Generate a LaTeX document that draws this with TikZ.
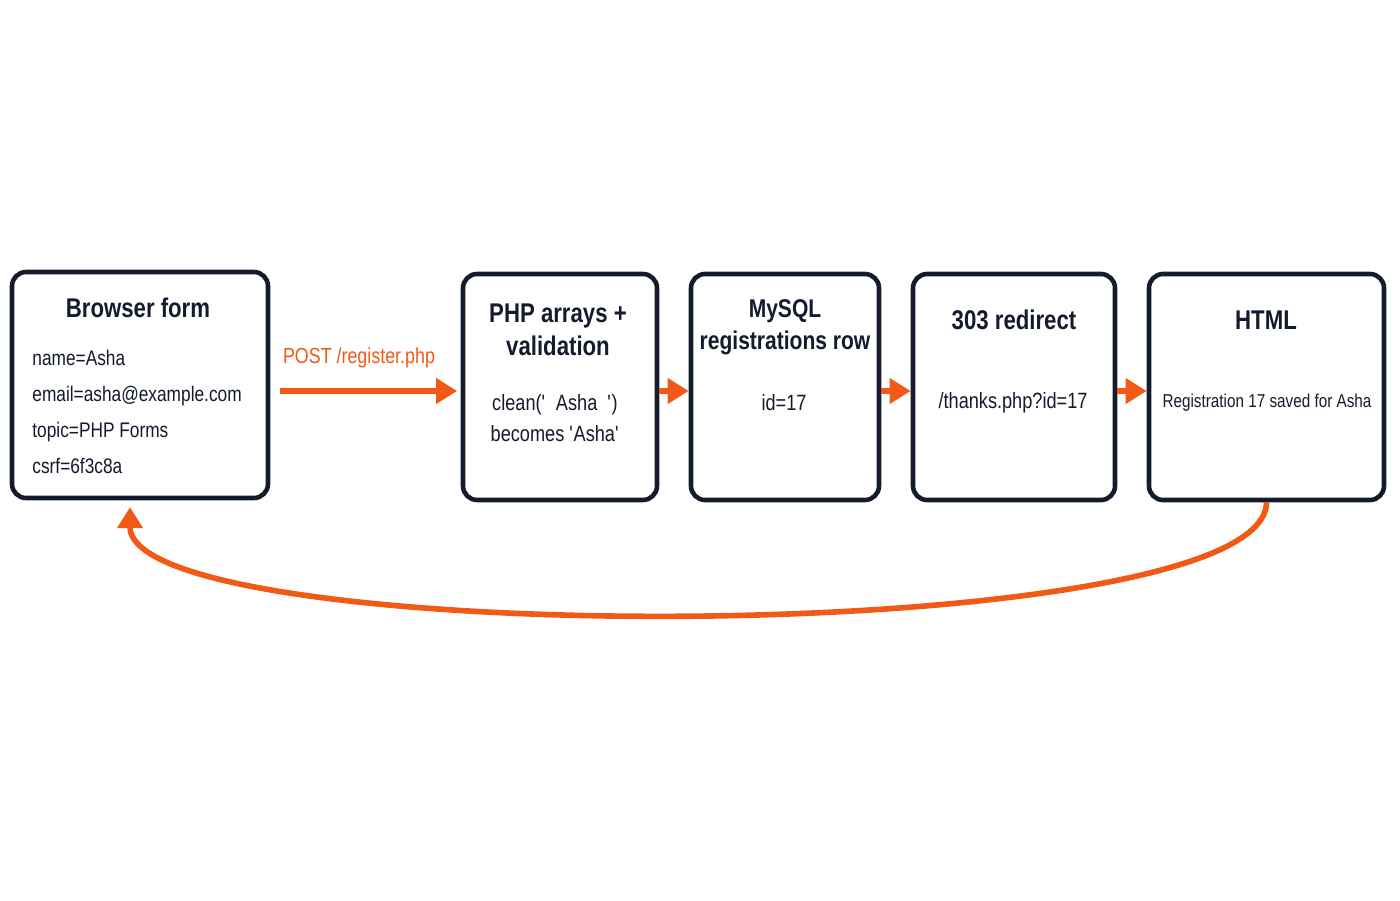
\documentclass[tikz,border=0pt]{standalone}
\usepackage{fontspec}
\setmainfont{Liberation Sans}[FakeStretch=0.82]
\usetikzlibrary{arrows.meta}
\definecolor{flow}{HTML}{F05A14}
\definecolor{ink}{HTML}{141B2D}
\tikzset{
    stage/.style={draw=ink, line width=1.3pt, rounded corners=4pt, fill=white, text=ink},
    title/.style={font=\bfseries\fontsize{7.7}{9.4}\selectfont, text=ink, align=center},
    body/.style={font=\fontsize{6.3}{8.6}\selectfont, text=ink, align=center},
    link/.style={draw=flow, line width=1.6pt, -{Triangle[length=6pt,width=7pt]}}
}
\begin{document}
\begin{tikzpicture}
    \useasboundingbox (0,0) rectangle (14,9);

    \node[stage, minimum width=2.56cm, minimum height=2.26cm] (A) at (1.40,5.15) {};
    \node[stage, minimum width=1.94cm, minimum height=2.26cm] (B) at (5.60,5.13) {};
    \node[stage, minimum width=1.88cm, minimum height=2.26cm] (C) at (7.85,5.13) {};
    \node[stage, minimum width=2.02cm, minimum height=2.26cm] (D) at (10.14,5.13) {};
    \node[stage, minimum width=2.35cm, minimum height=2.26cm] (E) at (12.665,5.13) {};

    \node[title] (At) at (1.38,5.92) {Browser form};
    \node[body, align=left, anchor=west, font=\fontsize{6.0}{8.2}\selectfont] (Ab) at (0.20,4.88)
        {name=Asha\\[2pt] email=asha@example.com\\[2pt] topic=PHP Forms\\[2pt] csrf=6f3c8a};

    \node[title] (Bt) at (5.58,5.70) {PHP arrays +\\validation};
    \node[body] (Bb) at (5.55,4.82) {clean(\textquotesingle\ \ Asha\ \ \textquotesingle)\\becomes \textquotesingle Asha\textquotesingle};

    \node[title, font=\bfseries\fontsize{7.3}{9}\selectfont] (Ct) at (7.85,5.73) {MySQL\\registrations row};
    \node[body] (Cb) at (7.84,4.97) {id=17};

    \node[title] (Dt) at (10.14,5.80) {303 redirect};
    \node[body] (Db) at (10.13,4.97) {/thanks.php?id=17};

    \node[title] (Et) at (12.66,5.80) {HTML};
    \node[body, font=\fontsize{5.3}{7}\selectfont] (Eb) at (12.67,4.97) {Registration 17 saved for Asha};

    \node[text=flow, font=\fontsize{6.2}{8}\selectfont] (P) at (3.59,5.42) {POST /register.php};

    \draw[link] ([xshift=0.1cm]A.east |- 0,5.09) -- ([xshift=-1pt]B.west |- 0,5.09);
    \draw[link] (B.east |- 0,5.09) -- (C.west |- 0,5.09);
    \draw[link] (C.east |- 0,5.09) -- (D.west |- 0,5.09);
    \draw[link] (D.east |- 0,5.09) -- (E.west |- 0,5.09);
    \draw[link] (E.south) .. controls (12.66,2.5) and (1.30,2.5) .. ([yshift=-2pt]1.30,4.00);
\end{tikzpicture}
\end{document}
